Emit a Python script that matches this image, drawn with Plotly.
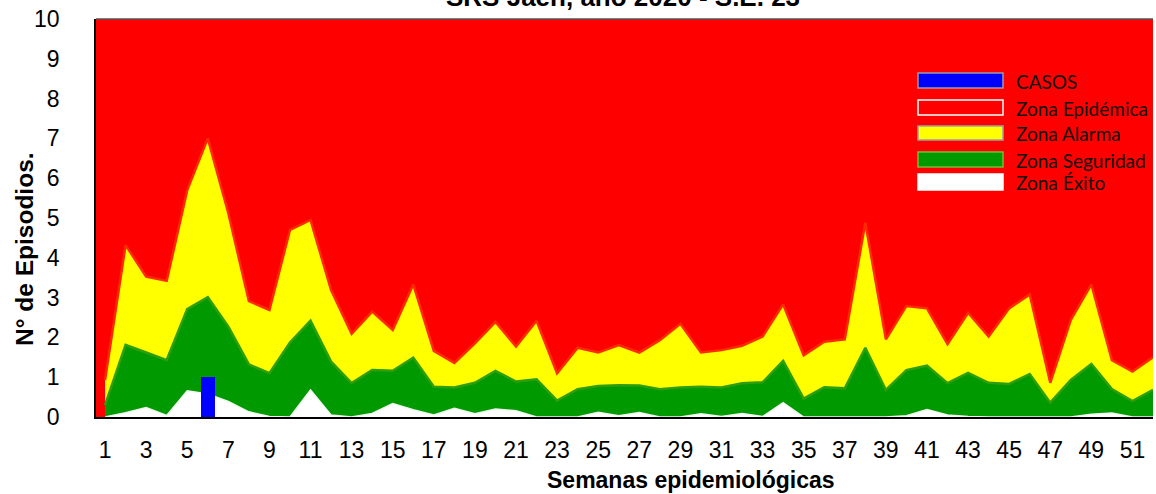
import plotly.graph_objects as go

weeks = list(range(1, 53))
tick_weeks = list(range(1, 53, 2))

zona_alarma = [0.93, 4.32, 3.53, 3.42, 5.70, 7.00, 5.12, 2.91, 2.69, 4.70,
               4.95, 3.19, 2.09, 2.65, 2.19, 3.33, 1.66, 1.36, 1.85, 2.39,
               1.77, 2.42, 1.10, 1.74, 1.62, 1.81, 1.62, 1.93, 2.34, 1.62,
               1.68, 1.79, 2.02, 2.83, 1.55, 1.89, 1.95, 4.88, 1.95, 2.79,
               2.73, 1.83, 2.62, 2.02, 2.73, 3.08, 0.86, 2.44, 3.33, 1.43,
               1.14, 1.50]
zona_seguridad = [0.30, 1.81, 1.62, 1.43, 2.71, 3.01, 2.27, 1.32, 1.10, 1.87,
                  2.42, 1.39, 0.85, 1.18, 1.16, 1.49, 0.76, 0.74, 0.86, 1.16,
                  0.89, 0.95, 0.41, 0.70, 0.78, 0.80, 0.79, 0.70, 0.74, 0.76,
                  0.74, 0.85, 0.87, 1.41, 0.46, 0.75, 0.72, 1.74, 0.68, 1.18,
                  1.29, 0.85, 1.11, 0.86, 0.83, 1.08, 0.36, 0.93, 1.33, 0.70,
                  0.40, 0.68]
zona_exito = [0.00, 0.11, 0.24, 0.04, 0.66, 0.58, 0.39, 0.13, 0.01, 0.00,
              0.68, 0.05, 0.00, 0.09, 0.34, 0.18, 0.05, 0.22, 0.08, 0.20,
              0.16, 0.00, 0.00, 0.00, 0.12, 0.03, 0.11, 0.00, 0.00, 0.08,
              0.01, 0.09, 0.01, 0.36, 0.00, 0.00, 0.00, 0.00, 0.00, 0.03,
              0.19, 0.05, 0.01, 0.00, 0.00, 0.00, 0.00, 0.00, 0.07, 0.10,
              0.00, 0.00]
zona_epidemica = [10] * 52
casos_weeks = list(range(1, 24))
casos = [0, 0, 0, 0, 0, 1, 0, 0, 0, 0, 0, 0, 0, 0, 0, 0, 0, 0, 0, 0, 0, 0, 0]

legend_items = [
    ("CASOS", "#0000FF", "#9a9aaa"),
    ("Zona Epidémica", "#FF0000", "#FFFFFF"),
    ("Zona Alarma", "#FFFF00", "#a0a0a0"),
    ("Zona Seguridad", "#009900", "#77bb33"),
    ("Zona Éxito", "#FFFFFF", "#FFFFFF"),
]

RED = "#FF0000"
YELLOW = "#FFFF00"
GREEN = "#009900"
BLUE = "#0000FF"
TICKFONT = "Liberation Sans, Arial, sans-serif"

fig = go.Figure()
fig.add_trace(go.Scatter(x=weeks, y=zona_epidemica, mode="lines", fill="tozeroy",
                         fillcolor=RED, line=dict(color=RED, width=0),
                         name="Zona Epidémica", showlegend=False, hoverinfo="skip"))
fig.add_trace(go.Scatter(x=weeks, y=zona_alarma, mode="lines", fill="tozeroy",
                         fillcolor=YELLOW, line=dict(color="#FF2A00", width=2.5),
                         name="Zona Alarma", showlegend=False))
fig.add_trace(go.Scatter(x=weeks, y=zona_seguridad, mode="lines", fill="tozeroy",
                         fillcolor=GREEN, line=dict(color="#2E9E0A", width=2.5),
                         name="Zona Seguridad", showlegend=False))
fig.add_trace(go.Scatter(x=weeks, y=zona_exito, mode="lines", fill="tozeroy",
                         fillcolor="#FFFFFF", line=dict(color="#EEF8EE", width=1.5),
                         name="Zona Éxito", showlegend=False))
fig.add_trace(go.Bar(x=casos_weeks, y=casos, width=0.7, marker=dict(color=BLUE, line=dict(width=0)),
                     name="CASOS", showlegend=False, xaxis="x", yaxis="y2"))

# plot area geometry in pixels (for legend placement)
L, R, T, B = 96, 1153, 19, 417
def px(xp):
    return (xp - L) / (R - L)
def py(yp):
    return (B - yp) / (B - T)

rows_y = [(73, 88), (100, 115), (126, 140), (152, 167), (174, 190)]
shapes = []
annotations = []
for (label, fillc, linec), (y0, y1) in zip(legend_items, rows_y):
    shapes.append(dict(type="rect", xref="paper", yref="paper",
                       x0=px(918), x1=px(1003), y0=py(y1), y1=py(y0),
                       fillcolor=fillc, line=dict(color=linec, width=1.5), layer="above"))
    annotations.append(dict(text=label, xref="paper", yref="paper",
                            x=px(1014), y=py((y0 + y1) / 2 + 0.5), xanchor="left", yanchor="middle",
                            showarrow=False, font=dict(family="Lato, sans-serif", size=19, color="#111111")))

annotations.append(dict(text="<b>SRS Jaén, año 2020 - S.E. 23</b>", xref="paper", yref="paper",
                        x=px(623), y=py(14), xanchor="center", yanchor="bottom", showarrow=False,
                        font=dict(family=TICKFONT, size=26, color="#000000")))
annotations.append(dict(text="<b>Semanas epidemiológicas</b>", xref="paper", yref="paper",
                        x=px(691), y=py(480), xanchor="center", yanchor="middle", showarrow=False,
                        font=dict(family=TICKFONT, size=23, color="#000000")))
annotations.append(dict(text="<b>N° de Episodios.</b>", xref="paper", yref="paper",
                        x=px(25), y=py(249), xanchor="center", yanchor="middle", showarrow=False,
                        textangle=-90, font=dict(family=TICKFONT, size=24.5, color="#000000")))

fig.update_layout(
    width=1156, height=494,
    margin=dict(l=L, r=1156 - R, t=T, b=494 - B),
    paper_bgcolor="#FFFFFF", plot_bgcolor=RED,
    showlegend=False,
    bargap=0,
    xaxis=dict(range=[0.56, 52.0], tickmode="array", tickvals=tick_weeks,
               ticktext=[str(w) for w in tick_weeks],
               showgrid=False, zeroline=False, showline=True, linecolor="#000000", linewidth=1.5,
               mirror=False, ticks="outside", ticklen=12, tickcolor="rgba(0,0,0,0)",
               tickfont=dict(family=TICKFONT, size=23, color="#000000")),
    yaxis=dict(range=[0, 10], tickmode="array", tickvals=list(range(0, 11)),
               showgrid=False, zeroline=False, showline=True, linecolor="#000000", linewidth=1.5,
               ticks="outside", ticklen=30, tickcolor="rgba(0,0,0,0)",
               tickfont=dict(family=TICKFONT, size=23, color="#000000")),
    yaxis2=dict(range=[0, 10], overlaying="y", visible=False),
    shapes=shapes + [dict(type="line", xref="paper", yref="paper", x0=0, x1=1, y0=1, y1=1,
                          line=dict(color="#555555", width=1.5), layer="above")],
    annotations=annotations,
)

fig.write_html("out.html", config={"displayModeBar": False},
               post_script="document.body.style.margin='0';document.body.style.overflow='hidden';")
